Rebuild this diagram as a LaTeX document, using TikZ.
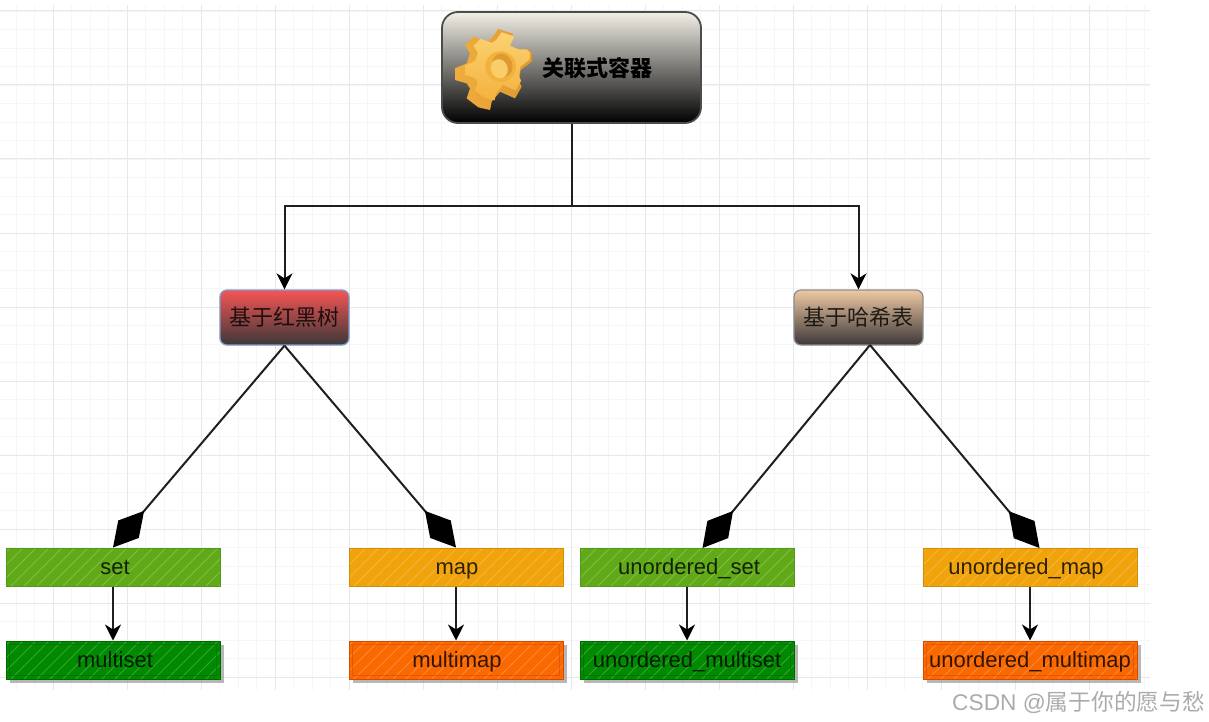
\documentclass[tikz,border=0pt]{standalone}
\usepackage{fontspec}
\setmainfont{Liberation Sans}
\newfontfamily\cjk{Noto Sans CJK SC}
\usetikzlibrary{arrows.meta,shadows}
\definecolor{gridmin}{HTML}{F6F6F6}
\definecolor{gridmaj}{HTML}{E8E8E8}
\definecolor{HG}{HTML}{60A917}\definecolor{HGd}{HTML}{4F9A18}
\definecolor{HA}{HTML}{F0A30A}\definecolor{HAd}{HTML}{D08E0A}
\definecolor{HD}{HTML}{008A00}\definecolor{HDd}{HTML}{006A00}
\definecolor{HO}{HTML}{FA6800}\definecolor{HOd}{HTML}{D84A00}
\definecolor{HT}{HTML}{F2EFE6}
\definecolor{HR}{HTML}{F55555}\definecolor{HK}{HTML}{3C3838}
\definecolor{HP}{HTML}{EFC8A4}
\definecolor{HB}{HTML}{7C9CCB}\definecolor{HY}{HTML}{8E8E8E}
\definecolor{GD}{HTML}{DE9A2E}\definecolor{GL}{HTML}{FBD272}
\definecolor{GM}{HTML}{F3B23E}\definecolor{GY}{HTML}{F9CE6A}
\definecolor{GS}{HTML}{F0AC3C}
\tikzset{
  box/.style={rectangle,minimum width=214pt,minimum height=38pt,inner sep=0pt,line width=1pt,
    text height=17pt,text depth=2pt,
    font=\fontsize{22pt}{24pt}\selectfont,text=black,text opacity=.8,
    path picture={\foreach \i in {-60,-47,...,230}{
      \draw[white,opacity=.22,line width=.9pt] (path picture bounding box.south west) ++(\i pt,0pt) -- ++(60pt,60pt);}}},
  grass/.style={box,fill=HG,draw=HGd},
  amber/.style={box,fill=HA,draw=HAd},
  shadowed/.style={drop shadow={shadow xshift=4pt,shadow yshift=-4pt,fill=black!40,opacity=.7}},
  dgreen/.style={box,fill=HD,draw=HDd,shadowed},
  orange/.style={box,fill=HO,draw=HOd,shadowed},
  treebox/.style={rectangle,rounded corners=7pt,minimum width=129pt,minimum height=55pt,inner sep=0pt,line width=1.3pt,
    font=\fontsize{22pt}{24pt}\selectfont\cjk,text=black,text opacity=.8},
  conn/.style={draw=black!88,line width=2pt},
  tri/.style={conn,-{Stealth[length=16pt,width=16pt,inset=5pt,black]}},
  dia/.style={conn,-{Kite[length=48pt,width=27pt,inset=24pt,black]}},
}
\newcommand{\gearpath}{(145,27) -- (190,42) -- (175,75) -- (205,88) -- (235,88) -- (247,100) -- (245,125) -- (212,150) -- (207,185) -- (215,200) -- (195,235) -- (150,215) -- (125,245) -- (120,270) -- (85,262) -- (50,235) -- (60,205) -- (50,190) -- (15,180) -- (15,145) -- (50,130) -- (60,100) -- (45,75) -- (70,50) -- (110,65) -- (125,55) -- cycle}
\begin{document}
\begin{tikzpicture}[x=1pt,y=-1pt]
\useasboundingbox (0,0) rectangle (1209,722);
% grid
\foreach \i in {0,...,61}{\draw[gridmin,line width=.8pt] ({16+18.5*\i},5) -- ({16+18.5*\i},690);}
\foreach \i in {0,...,36}{\draw[gridmin,line width=.8pt] (0,{11+18.5*\i}) -- (1150,{11+18.5*\i});}
\foreach \i in {0,...,14}{\draw[gridmaj,line width=1pt] ({53+74*\i},5) -- ({53+74*\i},690);}
\foreach \i in {0,...,9}{\draw[gridmaj,line width=1pt] (0,{11+74*\i}) -- (1150,{11+74*\i});}
% nodes
\node[rectangle,rounded corners=16pt,minimum width=259pt,minimum height=111pt,inner sep=0pt,
  draw=black!70,line width=1.8pt,top color=HT,bottom color=black] (root) at (571.5,67.5) {};
\node[font=\fontsize{22pt}{24pt}\selectfont\cjk\bfseries,text=black] (rootlabel) at (597,68) {关联式容器};
\node[treebox,draw=HB,top color=HR,bottom color=HK] (tree) at (284.5,317.5) {基于红黑树};
\node[treebox,draw=HY,top color=HP,bottom color=HK] (hash) at (858.5,317.5) {基于哈希表};
\node[grass] (set) at (113,567) {\hspace{4pt}set};
\node[amber] (map) at (456,567) {\hspace{2pt}map};
\node[grass] (uset) at (687,567) {\hspace{4pt}unordered\_set};
\node[amber] (umap) at (1030,567) {\hspace{-8pt}unordered\_map};
\node[dgreen] (mset) at (113,660) {\hspace{4pt}multiset};
\node[orange] (mmap) at (456,660) {\hspace{2pt}multimap};
\node[dgreen] (umset) at (687,660) {unordered\_multiset};
\node[orange] (ummap) at (1030,660) {unordered\_multimap};
\foreach \n/\c in {mset/HDd,umset/HDd,mmap/HOd,ummap/HOd}{
  \draw[\c,line width=.8pt,opacity=.6] ([shift={(4pt,-4pt)}]\n.north west) rectangle ([shift={(-4pt,4pt)}]\n.south east);}
% gear
\begin{scope}[x=.3333pt,y=-.3333pt,shift={(450pt,-20pt)}]
  \shade[left color=GS,right color=GD] \gearpath;
  \begin{scope}[shift={(11pt,-4.7pt)},scale=.84]
    \shade[top color=GL,bottom color=GM] \gearpath;
  \end{scope}
  \fill[GM] (152,140) circle[radius=46];
  \fill[GD,rotate around={20:(157,136)}] (157,136) ellipse[x radius=30,y radius=36];
  \fill[GY,rotate around={20:(148,146)}] (148,146) ellipse[x radius=25,y radius=29];
\end{scope}
% connectors
\coordinate (junction) at (571.5,206);
\coordinate (hashout) at (870,345);
\coordinate (usettip) at (702.5,548);
\coordinate (umaptip) at (1039.5,548);
\draw[conn] (root.south) -- (junction);
\draw[tri] (junction) -| (tree.north);
\draw[tri] (junction) -| (hash.north);
\draw[dia] (tree.south) -- (set.north);
\draw[dia] (tree.south) -- (map.north);
\draw[dia] (hashout) -- (usettip);
\draw[dia] (hashout) -- (umaptip);
\draw[tri] (set) -- (mset);
\draw[tri] (map) -- (mmap);
\draw[tri] (uset) -- (umset);
\draw[tri] (umap) -- (ummap);
% watermark
\node[anchor=east,text=black!33,font=\fontsize{22.7pt}{24pt}\selectfont,inner sep=0pt] (mark) at (1205,702) {CSDN @{\cjk 属于你的愿与愁}};
\end{tikzpicture}
\end{document}
